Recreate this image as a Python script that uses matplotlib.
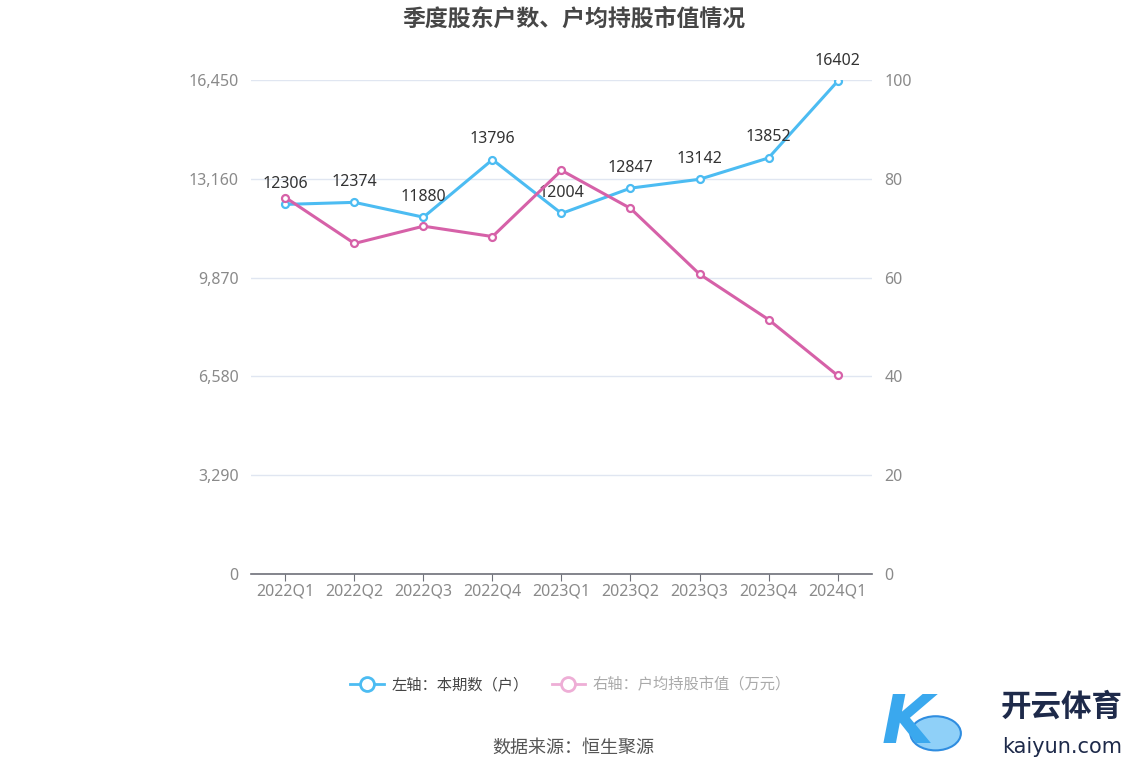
import numpy as np
import matplotlib.pyplot as plt
from matplotlib.lines import Line2D

plt.rcParams['font.family'] = ['Noto Sans CJK SC', 'DejaVu Sans']
num_font = ['Noto Sans', 'Noto Sans CJK SC']

quarters = ['2022Q1', '2022Q2', '2022Q3', '2022Q4', '2023Q1',
            '2023Q2', '2023Q3', '2023Q4', '2024Q1']
holders = [12306, 12374, 11880, 13796, 12004, 12847, 13142, 13852, 16402]
avg_value = [76.2, 66.9, 70.4, 68.3, 81.7, 74.0, 60.7, 51.5, 40.2]

left_ticks = [0, 3290, 6580, 9870, 13160, 16450]
right_ticks = [0, 20, 40, 60, 80, 100]

blue = '#4cbcf2'
pink = '#d661a8'

fig = plt.figure(figsize=(11.48, 7.76), dpi=100)
ax = fig.add_axes([0.2186, 0.2603, 0.5410, 0.6367])
ax2 = ax.twinx()

x = np.arange(len(quarters))
ax.plot(x, holders, color=blue, lw=2.2, marker='o', ms=5, mfc='white',
        mec=blue, mew=1.6, zorder=3)
ax2.plot(x, avg_value, color=pink, lw=2.2, marker='o', ms=5, mfc='white',
         mec=pink, mew=1.6, zorder=3)

for xi, v in zip(x, holders):
    ax.annotate(str(v), (xi, v), xytext=(0, 9), textcoords='offset points',
                ha='center', va='bottom', fontsize=11.5, color='#333333',
                family=num_font)

ax.set_xlim(-0.5, len(quarters) - 0.5)
ax.set_ylim(0, 16450)
ax2.set_ylim(0, 100)
ax.set_yticks(left_ticks)
ax.set_yticklabels([f'{t:,}' for t in left_ticks])
ax2.set_yticks(right_ticks)
ax.set_xticks(x)
ax.set_xticklabels(quarters)

ax.grid(axis='y', color='#e0e6f1', lw=1)
ax.set_axisbelow(True)
for a in (ax, ax2):
    for s in ('top', 'left', 'right', 'bottom'):
        a.spines[s].set_visible(False)
ax.spines['bottom'].set_visible(True)
ax.spines['bottom'].set_color('#6e7079')
ax.spines['bottom'].set_linewidth(1.2)

for a in (ax, ax2):
    a.tick_params(axis='y', length=0, pad=9, labelsize=11.5, labelcolor='#8a8a8a')
    for lab in a.get_yticklabels():
        lab.set_family(num_font)
ax.tick_params(axis='x', length=5, color='#6e7079', pad=2, labelsize=11.5,
               labelcolor='#8a8a8a')
for lab in ax.get_xticklabels():
    lab.set_family(num_font)

fig.text(0.5, 0.99, '季度股东户数、户均持股市值情况', ha='center', va='top',
         fontsize=16.5, fontweight='bold', color='#464646')

handles = [
    Line2D([], [], color=blue, lw=2, marker='o', ms=10, mfc='white', mew=2),
    Line2D([], [], color='#eeaed6', lw=2, marker='o', ms=10, mfc='white', mew=2),
]
leg = fig.legend(handles, ['左轴：本期数（户）', '右轴：户均持股市值（万元）'],
                 loc='center', bbox_to_anchor=(0.497, 0.117), ncol=2,
                 frameon=False, fontsize=11, handlelength=2.2,
                 columnspacing=1.5, handletextpad=0.5)
leg.get_texts()[0].set_color('#444444')
leg.get_texts()[1].set_color('#aaaaaa')

fig.text(0.499, 0.036, '数据来源：恒生聚源', ha='center', va='center',
         fontsize=13, color='#555555')

# watermark
fig.text(0.79, 0.067, 'K', ha='center', va='center', fontsize=48,
         fontstyle='italic', fontweight='bold', color='#3aa8ee',
         family='DejaVu Sans')
fig.patches.append(plt.Circle((0.815, 0.055), 0.022, transform=fig.transFigure,
                              facecolor='#8fd0f8', edgecolor='#2f8de0', lw=1.5))
fig.text(0.925, 0.09, '开云体育', ha='center', va='center', fontsize=22,
         fontweight='bold', color='#1e2a4a')
fig.text(0.925, 0.038, 'kaiyun.com', ha='center', va='center', fontsize=15,
         color='#1e2a4a', family='DejaVu Sans')

fig.savefig('out.png', dpi=100)
